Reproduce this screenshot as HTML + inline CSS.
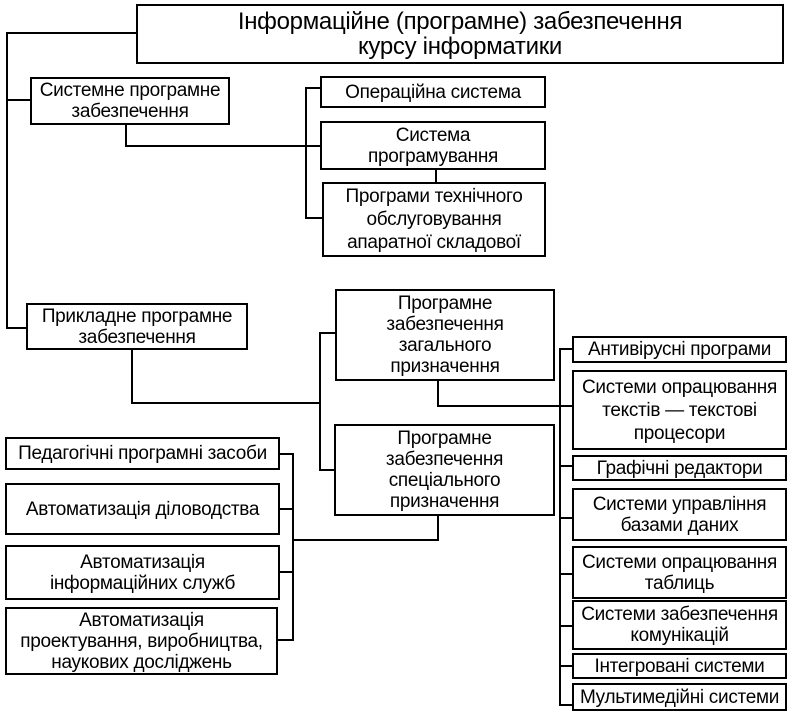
<!DOCTYPE html>
<html><head><meta charset="utf-8"><style>
body{margin:0;width:790px;height:716px;background:#fff;position:relative;overflow:hidden;font-family:"Liberation Sans","DejaVu Sans",sans-serif;}
.b{position:absolute;border:2.5px solid #000;box-sizing:border-box;display:flex;align-items:center;justify-content:center;text-align:center;font-size:19px;line-height:21px;color:#000;background:#fff;letter-spacing:-0.3px;white-space:nowrap}
svg{position:absolute;left:0;top:0}
</style></head><body>
<svg width="790" height="716"><g stroke="#000" stroke-width="2" fill="none">
<polyline points="136,33 7,33 7,328 26,328"/>
<line x1="7" y1="100" x2="30" y2="100"/>
<polyline points="126,125 126,146 320,146"/>
<polyline points="320,88 306,88 306,218 322,218"/>
<line x1="436" y1="170" x2="436" y2="182"/>
<polyline points="132,350 132,403 320,403"/>
<polyline points="335,333 320,333 320,470 334,470"/>
<polyline points="438,381 438,406 572,406"/>
<polyline points="572,349 560,349 560,705 572,705"/>
<line x1="560" y1="466" x2="572" y2="466"/>
<line x1="560" y1="518" x2="572" y2="518"/>
<line x1="560" y1="574" x2="572" y2="574"/>
<line x1="560" y1="626" x2="572" y2="626"/>
<line x1="560" y1="666" x2="572" y2="666"/>
<polyline points="438,516 438,540 293,540"/>
<polyline points="280,454 293,454 293,640 278,640"/>
<line x1="280" y1="509" x2="293" y2="509"/>
<line x1="280" y1="572" x2="293" y2="572"/>
</g></svg>
<div class="b" style="left:136px;top:4px;width:648px;height:60px;font-size:24px;line-height:25px">Інформаційне (програмне) забезпечення<br>курсу інформатики</div>
<div class="b" style="left:30px;top:77px;width:200px;height:48px">Системне програмне<br>забезпечення</div>
<div class="b" style="left:320px;top:76px;width:226px;height:32px">Операційна система</div>
<div class="b" style="left:320px;top:121px;width:226px;height:49px">Система<br>програмування</div>
<div class="b" style="left:322px;top:182px;width:224px;height:75px;line-height:23px">Програми технічного<br>обслуговування<br>апаратної складової</div>
<div class="b" style="left:26px;top:303px;width:222px;height:47px">Прикладне програмне<br>забезпечення</div>
<div class="b" style="left:335px;top:289px;width:220px;height:92px">Програмне<br>забезпечення<br>загального<br>призначення</div>
<div class="b" style="left:334px;top:424px;width:221px;height:92px">Програмне<br>забезпечення<br>спеціального<br>призначення</div>
<div class="b" style="left:5px;top:437px;width:275px;height:33px">Педагогічні програмні засоби</div>
<div class="b" style="left:5px;top:483px;width:275px;height:52px">Автоматизація діловодства</div>
<div class="b" style="left:5px;top:545px;width:275px;height:55px">Автоматизація<br>інформаційних служб</div>
<div class="b" style="left:5px;top:607px;width:273px;height:68px">Автоматизація<br>проектування, виробництва,<br>наукових досліджень</div>
<div class="b" style="left:572px;top:336px;width:215px;height:27px">Антивірусні програми</div>
<div class="b" style="left:572px;top:370px;width:215px;height:80px;line-height:23px">Системи опрацювання<br>текстів — текстові<br>процесори</div>
<div class="b" style="left:572px;top:455px;width:215px;height:26px">Графічні редактори</div>
<div class="b" style="left:572px;top:488px;width:215px;height:53px">Системи управління<br>базами даних</div>
<div class="b" style="left:572px;top:546px;width:215px;height:53px">Системи опрацювання<br>таблиць</div>
<div class="b" style="left:572px;top:600px;width:215px;height:50px">Системи забезпечення<br>комунікацій</div>
<div class="b" style="left:572px;top:653px;width:215px;height:26px">Інтегровані системи</div>
<div class="b" style="left:572px;top:683px;width:215px;height:28px">Мультимедійні системи</div>
</body></html>
